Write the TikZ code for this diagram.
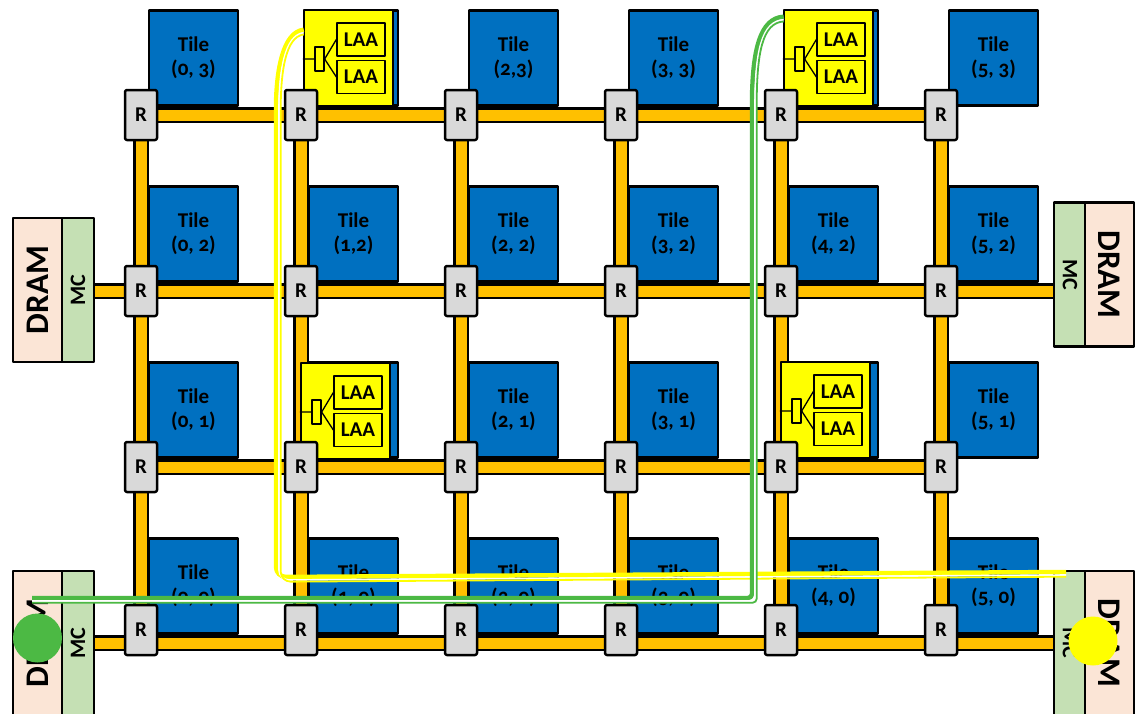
\documentclass[tikz,border=0pt]{standalone}
\usepackage{fontspec}
\setmainfont{Carlito}[Numbers=OldStyle]
\usetikzlibrary{calc}
\definecolor{TileBlue}{HTML}{0070C0}
\definecolor{Link}{HTML}{FFC000}
\definecolor{Router}{HTML}{D9D9D9}
\definecolor{Dram}{HTML}{FBE5D6}
\definecolor{Mc}{HTML}{C5E0B4}
\definecolor{Laa}{HTML}{FFFF00}
\definecolor{Route}{HTML}{4CB944}

% yellow accelerator box over a tile: name, left, top
\newcommand{\laabox}[3]{%
  \node[laa] (#1) at (#2+44.5,#3+48) {};
  \node[laacore] (#1-a) at (#2+57,#3+29.5) {LAA};
  \node[laacore] (#1-b) at (#2+57,#3+67) {LAA};
  \node[fork] (#1-s) at (#2+15.5,#3+49) {};
  \draw[line width=1.3] (#1-s.west) -- (#1-s.west -| #1.west) (#1-s.east) -- (#1-a.west) (#1-s.east) -- (#1-b.west);
}

\begin{document}
\begin{tikzpicture}[x=1pt,y=-1pt,line join=round,
  tile/.style={draw,line width=2.5,fill=TileBlue,minimum width=89,minimum height=95,inner sep=0,align=center,font=\fontsize{21}{27}\selectfont\bfseries},
  router/.style={draw,line width=2.5,fill=Router,rounded corners=2,minimum width=32,minimum height=50,inner sep=0,font=\fontsize{21}{22}\selectfont\bfseries},
  laa/.style={draw,line width=2.5,fill=Laa,minimum width=89,minimum height=96,inner sep=0},
  laacore/.style={draw,line width=1.3,minimum width=48,minimum height=33,inner sep=0,font=\fontsize{21}{22}\selectfont\bfseries},
  fork/.style={draw,line width=1.3,minimum width=9,minimum height=24,inner sep=0},
  dram/.style={draw,line width=2.5,fill=Dram,minimum width=49,minimum height=144,inner sep=0,font=\fontsize{33}{34}\selectfont\bfseries},
  mc/.style={draw,line width=2.5,fill=Mc,minimum width=32,minimum height=144,inner sep=0,font=\fontsize{22}{24}\selectfont\bfseries},
  link/.style={line width=2.5,double=Link,double distance=11},
  dot/.style={circle,minimum size=49,inner sep=0}]
\useasboundingbox (0,0) rectangle (1138,713);
\clip (0,0) rectangle (1138,713);
% memory controllers
\node[dram] (draml2) at (37.5,290) {\rotatebox{90}{DRAM}};
\node[mc] (mcl2) at (78,290) {\rotatebox{90}{MC}};
\node[dram] (draml0) at (37.5,643) {\rotatebox{90}{DRAM}};
\node[mc] (mcl0) at (78,643) {\rotatebox{90}{MC}};
\node[mc] (mcr2) at (1070,274.5) {\rotatebox{-90}{MC}};
\node[dram] (dramr2) at (1109.5,274.5) {\rotatebox{-90}{DRAM}};
\node[mc] (mcr0) at (1070,643) {\rotatebox{-90}{MC}};
\node[dram] (dramr0) at (1109.5,643) {\rotatebox{-90}{DRAM}};
% mesh links
\foreach \i in {0,...,5} \foreach \j in {0,...,3} \coordinate (x\i\j) at (141+160*\i,643-176*\j);
\foreach \j in {0,...,3} \draw[link] (x0\j) -- (x5\j);
\foreach \i in {0,...,5} \draw[link] (x\i0) -- (x\i3);
\draw[link] (mcl2.east |- x02) -- (x02) (x52) -- (mcr2.west |- x52);
\draw[link] (mcl0.east |- x00) -- (x00) (x50) -- (mcr0.west |- x50);
% tiles
\foreach \i/\j/\l in {0/3/{0, 3},2/3/{2,3},3/3/{3, 3},5/3/{5, 3},
    0/2/{0, 2},1/2/{1,2},2/2/{2, 2},3/2/{3, 2},4/2/{4, 2},5/2/{5, 2},
    0/1/{0, 1},2/1/{2, 1},3/1/{3, 1},5/1/{5, 1},
    0/0/{0, 0},1/0/{1, 0},2/0/{2, 0},3/0/{3, 0},4/0/{4, 0},5/0/{5, 0}}
  \node[tile] (t\i\j) at (193.5+160*\i,586-176*\j) {\raisebox{-3pt}{Tile}\\(\l)};
\foreach \i/\j in {1/3,4/3,1/1,4/1} \node[tile] (t\i\j) at (193.5+160*\i,586-176*\j) {};
\laabox{laa13}{304}{10}
\laabox{laa43}{784}{10}
\laabox{laa11}{301}{363}
\laabox{laa41}{781}{362}
% routers
\foreach \j/\ry in {3/115,2/291,1/467,0/630} \foreach \i in {0,...,5} \node[router] (r\i\j) at (141+160*\i,\ry) {R};
% request paths
\coordinate (ysrc) at (1066,572);
\coordinate (gsrc) at (32,598);
\foreach \d/\w/\c in {0/4.5/Laa,3/1.6/white,4.7/1.8/Laa}
  \draw[line width=\w,\c,rounded corners=10] ($(ysrc)+(0,\d)$) -- (276+\d,577+\d) -- (276+\d,120) .. controls (276+\d,70+\d*.5) and (283+\d*.5,32+\d) .. ($(laa13.north west)+(1,21+\d)$);
\foreach \d/\w/\c in {0/4.5/Route,3/1.6/white,4.7/1.8/Route}
  \draw[line width=\w,\c,rounded corners=4] ($(gsrc)+(0,\d)$) -- (752+\d,598+\d) -- (752+\d,110) .. controls (752+\d,50+\d*.5) and (760+\d*.5,18+\d) .. ($(laa43.north west)+(1,8+\d)$);
\node[dot,fill=Route] (gdot) at (37.5,638) {};
\node[dot,fill=Laa] (ydot) at (1093,641) {};
\end{tikzpicture}
\end{document}
